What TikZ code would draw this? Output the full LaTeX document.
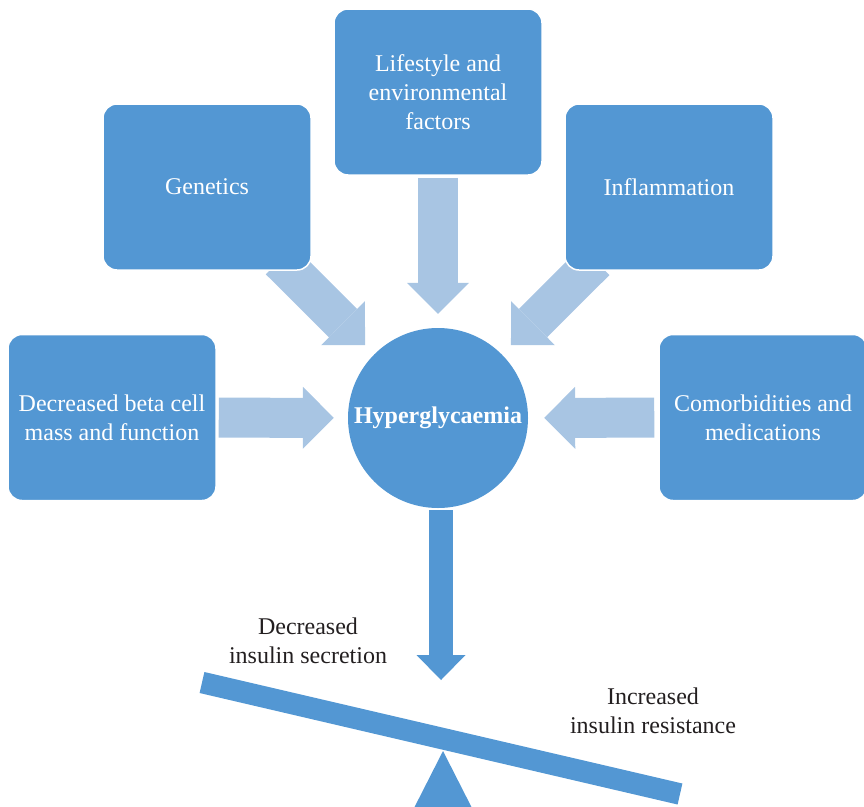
\documentclass[tikz,border=0pt]{standalone}
\usepackage{fontspec}
\setmainfont{Liberation Serif}
\usepackage{tikz}
\usetikzlibrary{arrows.meta,backgrounds}

\definecolor{boxblue}{RGB}{83,151,211}
\definecolor{paleblue}{RGB}{168,197,227}
\definecolor{inkgray}{RGB}{35,31,32}

\tikzset{
  factor/.style={rectangle, rounded corners=14pt, fill=boxblue, draw=white, line width=1.5pt,
    minimum width=208pt, minimum height=166pt, inner sep=2pt, align=center, text=white,
    font=\fontsize{24}{29}\selectfont},
  push/.style={draw=paleblue, line width=40pt,
    -{Triangle[width=62pt 0 0,length=31pt 0 0,line width=0pt 0 0]}},
  tilt/.style={draw=boxblue, line width=24pt,
    -{Triangle[width=49pt 0 0,length=25pt 0 0,line width=0pt 0 0]}},
  caption/.style={align=center, text=inkgray, font=\fontsize{24}{29}\selectfont},
}

\begin{document}
\begin{tikzpicture}[x=1pt,y=1pt,yscale=-1,xscale=1]
\useasboundingbox (0,0) rectangle (864,806);

%Rounded Rect
\node [factor] (life) at (438,92) {Lifestyle and\\environmental\\factors};
\node [factor] (gen) at (207,187) {Genetics};
\node [factor] (infl) at (669,187) {Inflammation};
\node [factor] (beta) at (112,417.5) {Decreased beta cell\\mass and function};
\node [factor] (comorb) at (763,417.5) {Comorbidities and\\medications};

%Circle
\node [circle, fill=boxblue, minimum size=180pt, inner sep=0pt, text=white,
  font=\fontsize{24}{29}\selectfont\bfseries] (hyper) at (438,418) {Hyperglycaemia};

%Block Arrows
\begin{scope}[on background layer]
\draw [push, shorten <=2pt, shorten >=14pt] (life) -- (hyper);
\draw [push, shorten <=-15pt, shorten >=13pt] (gen) -- (hyper);
\draw [push, shorten <=-14pt, shorten >=13pt] (infl) -- (hyper);
\draw [push, shorten <=2pt, shorten >=14pt] (beta) -- (hyper);
\draw [push, shorten <=4pt, shorten >=16pt] (comorb) -- (hyper);
\end{scope}

%Seesaw
\coordinate (tip) at (441,680);
\draw [tilt, shorten <=2pt] (hyper.south -| tip) -- (tip);
\fill [boxblue] (443,751) -- (474,812) -- (412,812) -- cycle;
\fill [boxblue] (204.4,672) -- (682.4,783.5) -- (677.6,804.5) -- (199.6,693) -- cycle;

% Text Node
\node [caption] (secretion) at (308,641) {Decreased\\insulin secretion};
% Text Node
\node [caption] (resistance) at (653,711) {Increased\\insulin resistance};

\end{tikzpicture}
\end{document}
